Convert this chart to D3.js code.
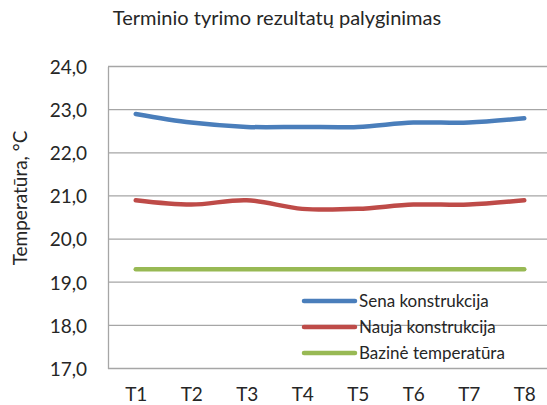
<!DOCTYPE html>
<html>
<head>
<meta charset="utf-8">
<script src="https://cdn.jsdelivr.net/npm/d3@7"></script>
<style>
  body { margin: 0; background: #fff; }
  text { font-family: Lato, "Noto Sans", sans-serif; fill: #262626; }
</style>
</head>
<body>
<div id="chart"></div>
<script>
// data
var categories = ["T1", "T2", "T3", "T4", "T5", "T6", "T7", "T8"];
var senaValues = [22.9, 22.7, 22.6, 22.6, 22.6, 22.7, 22.7, 22.8];
var naujaValues = [20.9, 20.8, 20.9, 20.7, 20.7, 20.8, 20.8, 20.9];
var bazineValues = [19.3, 19.3, 19.3, 19.3, 19.3, 19.3, 19.3, 19.3];
var seriesNames = ["Sena konstrukcija", "Nauja konstrukcija", "Bazinė temperatūra"];
var seriesColors = ["#4a7ebb", "#be4b48", "#98b954"];
var yTicks = [17, 18, 19, 20, 21, 22, 23, 24];

var svgWidth = 547;
var svgHeight = 405;

var svg = d3.select("#chart")
  .append("svg")
  .attr("width", svgWidth)
  .attr("height", svgHeight);

// plot area (runs past the right edge like the original)
var plotLeft = 108, plotTop = 66.5, plotBottom = 368.5, bandW = 55.5;

var x = d3.scalePoint()
  .domain(categories)
  .range([plotLeft + bandW / 2, plotLeft + bandW * 7.5]);

var y = d3.scaleLinear()
  .domain([17, 24])
  .range([plotBottom, plotTop]);

// gridlines
svg.append("g")
  .selectAll("line")
  .data(yTicks)
  .enter()
  .append("line")
  .attr("x1", plotLeft)
  .attr("x2", plotLeft + bandW * 8)
  .attr("y1", d => y(d))
  .attr("y2", d => y(d))
  .attr("stroke", "#a6a6a6")
  .attr("stroke-width", 1.3);

// y axis
var leftAxis = d3.axisLeft(y)
  .tickValues(yTicks)
  .tickSize(0)
  .tickPadding(21)
  .tickFormat(d => d3.format(".1f")(d).replace(".", ","));

var yAxisG = svg.append("g")
  .attr("transform", `translate(${plotLeft}, 0)`)
  .call(leftAxis);
yAxisG.select(".domain").attr("stroke", "#a6a6a6").attr("stroke-width", 1.3);
yAxisG.selectAll("text")
  .attr("fill", "#262626")
  .style("font-size", "19px")
  .attr("dy", "0.36em");

// x axis labels
var bottomAxis = d3.axisBottom(x).tickSize(0).tickPadding(0);
var xAxisG = svg.append("g")
  .attr("transform", `translate(0, ${plotBottom})`)
  .call(bottomAxis);
xAxisG.select(".domain").remove();
xAxisG.selectAll("text")
  .attr("fill", "#262626")
  .attr("y", 32)
  .attr("dy", null)
  .style("font-size", "19px");
xAxisG.attr("font-family", null).attr("font-size", null);
yAxisG.attr("font-family", null).attr("font-size", null);

// lines
var allSeries = [senaValues, naujaValues, bazineValues];
var line = d3.line()
  .x((d, i) => x(categories[i]))
  .y(d => y(d))
  .curve(d3.curveCatmullRom.alpha(0));

svg.append("g")
  .selectAll("path")
  .data(allSeries)
  .enter()
  .append("path")
  .attr("d", d => line(d))
  .attr("fill", "none")
  .attr("stroke", (d, i) => seriesColors[i])
  .attr("stroke-width", 4.5)
  .attr("stroke-linecap", "round");

// title
svg.append("text")
  .attr("x", 277)
  .attr("y", 25)
  .attr("text-anchor", "middle")
  .style("font-size", "20px")
  .text("Terminio tyrimo rezultatų palyginimas");

// y title
svg.append("text")
  .attr("transform", "translate(27, 198) rotate(-90)")
  .attr("text-anchor", "middle")
  .style("font-size", "19px")
  .text("Temperatūra, °C");

// legend
var legend = svg.append("g")
  .selectAll("g")
  .data(seriesNames)
  .enter()
  .append("g")
  .attr("transform", (d, i) => `translate(304, ${301 + i * 26})`);

legend.append("line")
  .attr("x1", 0)
  .attr("x2", 51)
  .attr("stroke", (d, i) => seriesColors[i])
  .attr("stroke-width", 4.5)
  .attr("stroke-linecap", "round");

legend.append("text")
  .attr("x", 55)
  .attr("dy", "0.36em")
  .style("font-size", "17px")
  .text(d => d);
</script>
</body>
</html>
